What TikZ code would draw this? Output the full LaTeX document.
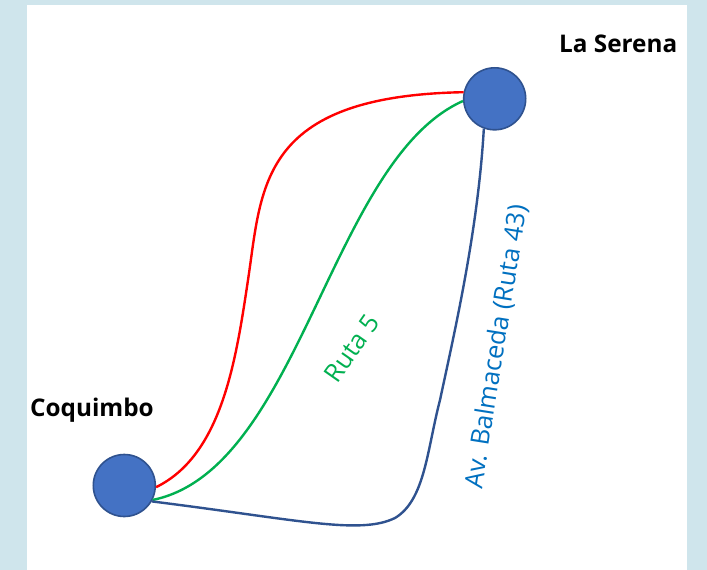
\documentclass[tikz,border=0pt]{standalone}
\usepackage{fontspec}
\setmainfont{Open Sans}
\definecolor{bgblue}{HTML}{CFE5EC}
\definecolor{nodefill}{HTML}{4472C4}
\definecolor{nodeedge}{HTML}{2F528F}
\definecolor{rgreen}{HTML}{00B050}
\definecolor{rred}{HTML}{FF0000}
\definecolor{rblue}{HTML}{2F528F}
\definecolor{tblue}{HTML}{0070C0}
\tikzset{
  city/.style={circle, fill=nodefill, draw=nodeedge, line width=1.6pt, minimum size=62pt, inner sep=0pt},
  citylabel/.style={font=\fontsize{24.3}{28}\selectfont\bfseries, text=black, inner sep=0pt},
  route/.style={line width=2.4pt},
  routelabel/.style={font=\fontsize{25.5}{29}\selectfont, inner sep=0pt}
}
\begin{document}
\begin{tikzpicture}[x=1pt, y=-1pt]
\useasboundingbox (0,0) rectangle (707,570);
\fill[bgblue] (0,0) rectangle (707,570);
\fill[white] (27,5) rectangle (687,570);
\node[city] (coq) at (124.3,485.5) {};
\node[city] (ser) at (494.7,98.8) {};
\node[citylabel, anchor=west] (coqlbl) at (30,410) {Coquimbo};
\node[citylabel, anchor=west] (serlbl) at (559,44) {La Serena};
\draw[route, rred] (coq.-3) .. controls (222,455) and (236,360) .. (248,280)
   .. controls (262,188) and (258,96) .. (ser.168);
\draw[route, rgreen] (coq.-27) .. controls (300,470) and (330,160) .. (ser.184);
\draw[route, rblue] (coq.-30) .. controls (300,520) and (360,535) .. (395,518)
   .. controls (425,500) and (427,450) .. (440,400)
   .. controls (455,330) and (478,230) .. (ser.250);
\node[routelabel, text=rgreen, rotate=55] (r5) at (352,348) {Ruta 5};
\node[routelabel, text=tblue, rotate=81] (r43) at (497,347) {Av. Balmaceda (Ruta 43)};
\end{tikzpicture}
\end{document}
